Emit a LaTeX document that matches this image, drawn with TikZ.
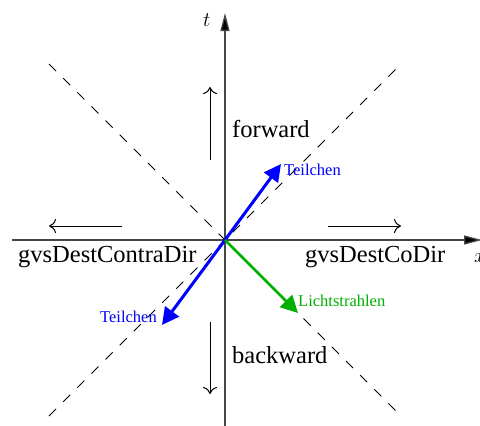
\documentclass[tikz,border=0pt]{standalone}
\usepackage{fontspec}
\setmainfont{Liberation Serif}
\usetikzlibrary{arrows.meta}
\definecolor{lgreen}{RGB}{0,176,0}
\definecolor{axisgray}{RGB}{70,70,70}
\begin{document}
\begin{tikzpicture}[x=1pt,y=-1pt,
  axisline/.style={draw=axisgray,line width=1.3pt,-{Triangle[length=18pt,width=9pt,fill=black]}},
  lightcone/.style={draw=black,line width=1pt,dash pattern=on 10pt off 10pt},
  dirarrow/.style={draw=black,line width=1pt,-{To[length=7pt,width=14pt]}},
  blueray/.style={draw=blue,line width=3pt,-{Triangle[length=17pt,width=17pt]}},
  greenray/.style={draw=lgreen,line width=2.6pt,-{Triangle[length=17pt,width=17pt]}},
  biglabel/.style={font=\fontsize{24.5}{28}\selectfont,inner sep=0pt,anchor=base west},
  smalllabel/.style={font=\fontsize{16.5}{19}\selectfont,inner sep=0pt,anchor=base west}]
\useasboundingbox (0,0) rectangle (480,426);
% axes
\coordinate (O) at (225,240);
\coordinate (xl) at (12,240);
\coordinate (xr) at (482,240);
\coordinate (tb) at (225,426);
\coordinate (tt) at (225,13);
\draw[axisline] (xl) -- (xr);
\draw[axisline] (tb) -- (tt);
\node[inner sep=0pt,anchor=base west,font=\fontsize{21}{24}\selectfont] (tlab) at (203,26) {$t$};
\node[inner sep=0pt,anchor=base west,font=\fontsize{21}{24}\selectfont] (xlab) at (474,262) {$x$};
% light cone
\coordinate (c1) at (49,64);
\coordinate (c2) at (401,416);
\coordinate (c3) at (401,64);
\coordinate (c4) at (49,416);
\draw[lightcone] (c1) -- (c2);
\draw[lightcone] (c4) -- (c3);
% direction arrows
\coordinate (f1) at (210,160); \coordinate (f2) at (210,87);
\coordinate (b1) at (210,322); \coordinate (b2) at (210,394);
\coordinate (l1) at (122,226); \coordinate (l2) at (49,226);
\coordinate (r1) at (328,226); \coordinate (r2) at (401,226);
\draw[dirarrow] (f1) -- (f2);
\draw[dirarrow] (b1) -- (b2);
\draw[dirarrow] (l1) -- (l2);
\draw[dirarrow] (r1) -- (r2);
% labels
\node[biglabel] (fw) at (232,137) {forward};
\node[biglabel] (bw) at (232,363) {backward};
\node[biglabel] (contra) at (18,262) {gvsDestContraDir};
\node[biglabel] (co) at (305,262) {gvsDestCoDir};
% rays
\coordinate (p1) at (281,164);
\coordinate (p2) at (162,325);
\coordinate (g1) at (298,313);
\draw[blueray] (O) -- (p1);
\draw[blueray] (O) -- (p2);
\draw[greenray] (O) -- (g1);
\node[smalllabel,text=blue] (t1) at (284,175) {Teilchen};
\node[smalllabel,text=blue] (t2) at (100,322) {Teilchen};
\node[smalllabel,text=lgreen] (ls) at (298,306) {Lichtstrahlen};
\end{tikzpicture}
\end{document}
